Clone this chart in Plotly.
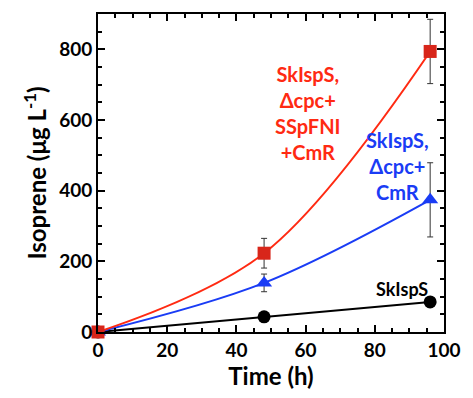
import plotly.graph_objects as go

time_h = [0, 48, 96]
red_vals = [0, 223, 794]
red_err = [0, 42, 91]
blue_vals = [0, 139, 374]
blue_err = [0, 25, 105]
black_vals = [0, 43, 85]
black_err = [0, 0, 0]

RED_LINE = "#ff2a12"
RED_MARK = "#d8261a"
BLUE = "#1a3cf5"
FONT = "Lato"

fig = go.Figure()

fig.add_trace(go.Scatter(
    x=time_h, y=black_vals, mode="lines+markers", cliponaxis=False,
    line=dict(color="black", width=2),
    marker=dict(symbol="circle", size=13, color="black"),
    error_y=dict(type="data", array=black_err, visible=True, color="#333", thickness=1, width=3),
    showlegend=False))
fig.add_trace(go.Scatter(
    x=time_h, y=blue_vals, mode="lines+markers", cliponaxis=False,
    line=dict(color=BLUE, width=2, shape="spline"),
    marker=dict(symbol="triangle-up", size=14, color=BLUE),
    error_y=dict(type="data", array=blue_err, visible=True, color="#333", thickness=1, width=3),
    showlegend=False))
fig.add_trace(go.Scatter(
    x=time_h, y=red_vals, mode="lines+markers", cliponaxis=False,
    line=dict(color=RED_LINE, width=2, shape="spline"),
    marker=dict(symbol="square", size=13, color=RED_MARK),
    error_y=dict(type="data", array=red_err, visible=True, color="#333", thickness=1, width=3),
    showlegend=False))

fig.add_annotation(x=60.6, y=621, xref="x", yref="y",
                   text="<b>SkIspS,<br>Δcpc+<br>SSpFNI<br>+CmR</b>",
                   showarrow=False, font=dict(family=FONT, size=20, color=RED_LINE), align="center")
fig.add_annotation(x=86.5, y=471, xref="x", yref="y",
                   text="<b>SkIspS,<br>Δcpc+<br>CmR</b>",
                   showarrow=False, font=dict(family=FONT, size=20, color=BLUE), align="center")
fig.add_annotation(x=88, y=122, xref="x", yref="y",
                   text="<b>SkIspS</b>",
                   showarrow=False, font=dict(family=FONT, size=18, color="black"), align="center")

axis_common = dict(showline=True, linecolor="black", linewidth=2, mirror="ticks",
                   ticks="inside", tickcolor="black", tickwidth=2, showgrid=False, zeroline=False,
                   tickfont=dict(family=FONT, size=19, color="black"))

fig.update_xaxes(range=[0, 100], tick0=0, dtick=20, ticklen=7,
                 minor=dict(dtick=5, ticks="inside", ticklen=4, tickcolor="black", tickwidth=1.5),
                 title=dict(text="<b>Time (h)</b>", font=dict(family=FONT, size=24, color="black"), standoff=6),
                 **axis_common)
fig.update_yaxes(range=[0, 900], tick0=0, dtick=200, ticklen=7,
                 minor=dict(dtick=50, ticks="inside", ticklen=4, tickcolor="black", tickwidth=1.5),
                 title=dict(text="<b>Isoprene (μg L<sup>-1</sup>)</b>", font=dict(family=FONT, size=24, color="black"), standoff=6),
                 **axis_common)
fig.update_xaxes(tickprefix="<b>", ticksuffix="</b>")
fig.update_yaxes(tickprefix="<b>", ticksuffix="</b>")

fig.update_layout(width=473, height=398, margin=dict(l=98, r=20, t=14, b=66),
                  plot_bgcolor="white", paper_bgcolor="white")

fig.write_html("out.html")
